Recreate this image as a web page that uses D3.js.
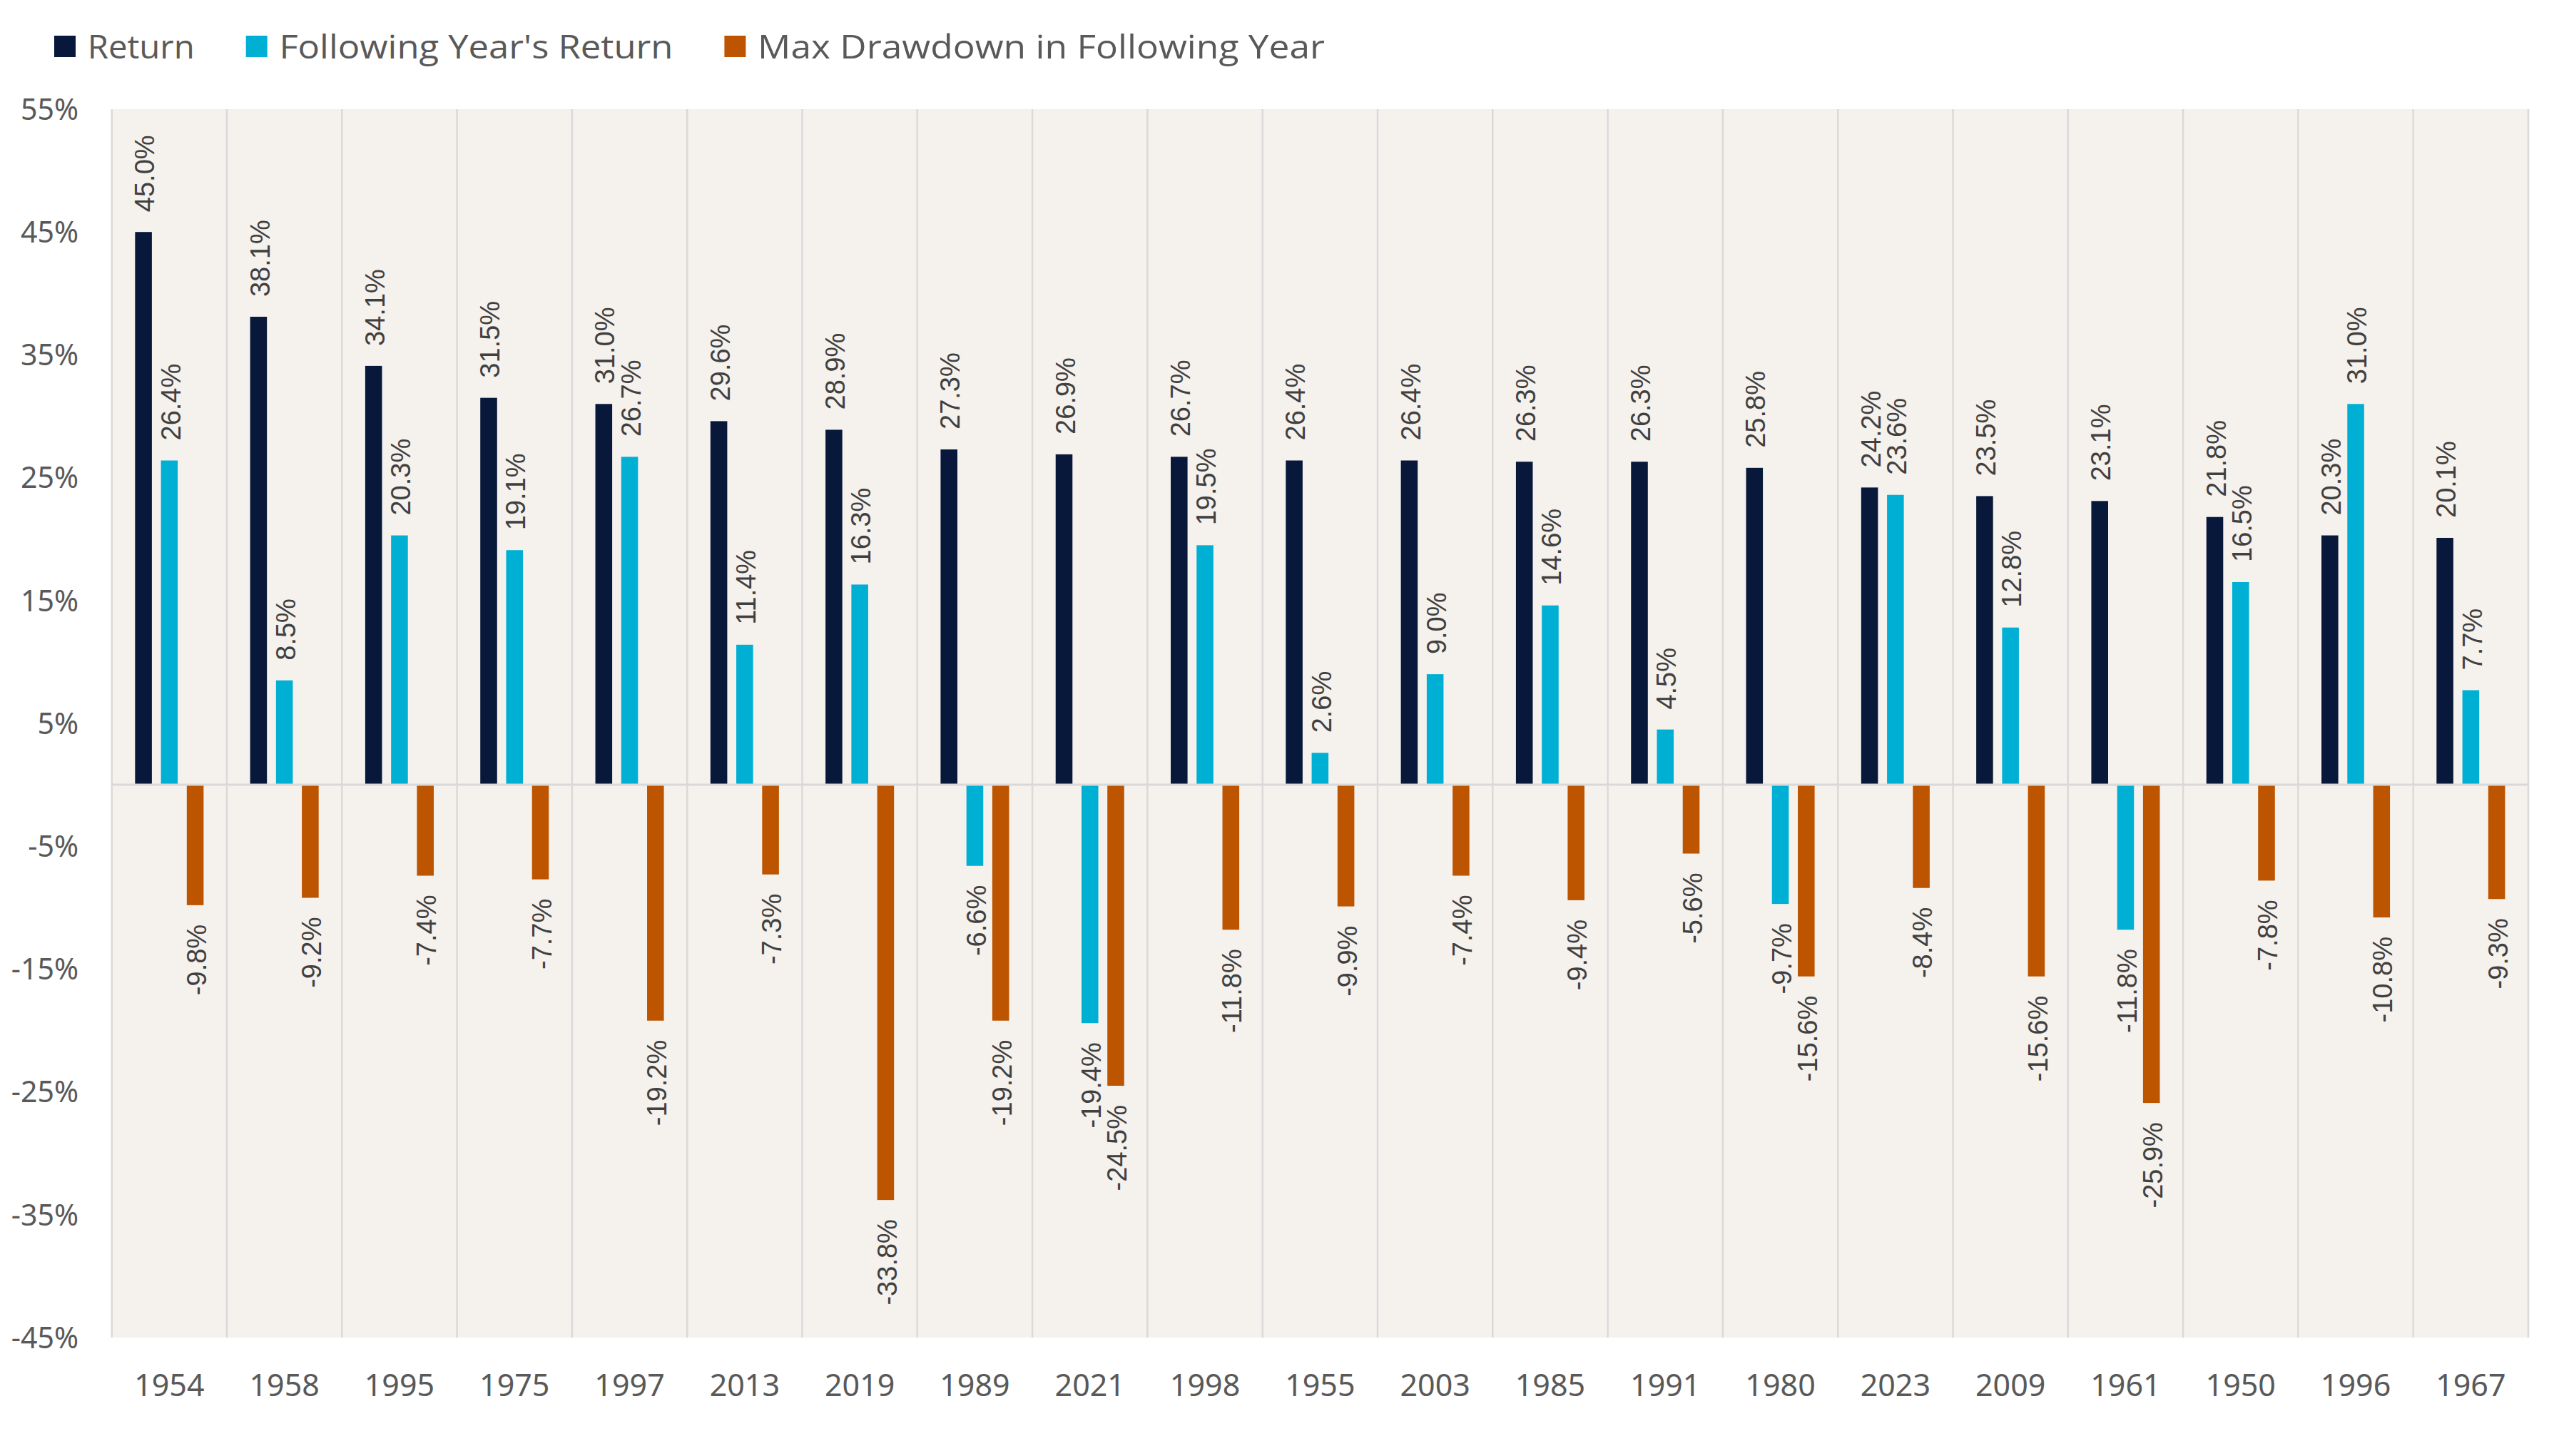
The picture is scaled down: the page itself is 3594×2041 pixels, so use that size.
<!DOCTYPE html>
<html>
<head>
<meta charset="utf-8">
<script src="https://cdn.jsdelivr.net/npm/d3@7"></script>
<style>
  html, body { margin: 0; padding: 0; background: #ffffff; }
  svg { display: block; }
</style>
</head>
<body>
<svg id="chart" width="3594" height="2041"></svg>
<script>
// ---- data ----
const categories = ["1954","1958","1995","1975","1997","2013","2019","1989","2021","1998","1955","2003","1985","1991","1980","2023","2009","1961","1950","1996","1967"];
const seriesNames = ["Return", "Following Year's Return", "Max Drawdown in Following Year"];
const returnValues    = [45.0, 38.1, 34.1, 31.5, 31.0, 29.6, 28.9, 27.3, 26.9, 26.7, 26.4, 26.4, 26.3, 26.3, 25.8, 24.2, 23.5, 23.1, 21.8, 20.3, 20.1];
const followingValues = [26.4, 8.5, 20.3, 19.1, 26.7, 11.4, 16.3, -6.6, -19.4, 19.5, 2.6, 9.0, 14.6, 4.5, -9.7, 23.6, 12.8, -11.8, 16.5, 31.0, 7.7];
const drawdownValues  = [-9.8, -9.2, -7.4, -7.7, -19.2, -7.3, -33.8, -19.2, -24.5, -11.8, -9.9, -7.4, -9.4, -5.6, -15.6, -8.4, -15.6, -25.9, -7.8, -10.8, -9.3];
const yTickValues = [55, 45, 35, 25, 15, 5, -5, -15, -25, -35, -45];
const seriesColors = ["#08183a", "#00b0d4", "#bd5500"];

// ---- layout / style ----
const W = 3594, H = 2041;
const plot = { left: 156.7, right: 3544, top: 153, bottom: 1875 };
const legendTextWidths = [150, 552, 795];   // rendered widths of the legend labels (wide geometric face)

const svg = d3.select("#chart");
svg.append("rect").attr("width", W).attr("height", H).attr("fill", "#ffffff");

const x = d3.scaleBand().domain(categories).range([plot.left, plot.right]).paddingInner(0).paddingOuter(0);
const xs = d3.scaleBand().domain(seriesNames).range([0, x.bandwidth()]).paddingInner(0.35).paddingOuter(0.9);
const y = d3.scaleLinear().domain([-45, 55]).range([plot.bottom, plot.top]);

// plot background
svg.append("rect")
  .attr("x", plot.left).attr("y", plot.top)
  .attr("width", plot.right - plot.left).attr("height", plot.bottom - plot.top)
  .attr("fill", "#f5f1ed");

// vertical category separators
const sepPositions = categories.map(c => x(c)).concat([x(categories[categories.length - 1]) + x.bandwidth()]);
svg.append("g").selectAll("line").data(sepPositions).join("line")
  .attr("x1", d => d).attr("x2", d => d)
  .attr("y1", plot.top).attr("y2", plot.bottom)
  .attr("stroke", "#dadada").attr("stroke-width", 2.5);

// data rows
const rows = categories.map((c, i) => ({
  cat: c,
  vals: [returnValues[i], followingValues[i], drawdownValues[i]]
}));

const groups = svg.append("g").selectAll("g").data(rows).join("g")
  .attr("transform", d => `translate(${x(d.cat)},0)`);

groups.selectAll("rect").data(d => d.vals.map((v, k) => ({ v, k }))).join("rect")
  .attr("x", d => xs(seriesNames[d.k]))
  .attr("width", xs.bandwidth())
  .attr("y", d => Math.min(y(d.v), y(0)))
  .attr("height", d => Math.abs(y(d.v) - y(0)))
  .attr("fill", d => seriesColors[d.k]);

// zero line
svg.append("line")
  .attr("x1", plot.left).attr("x2", plot.right)
  .attr("y1", y(0)).attr("y2", y(0))
  .attr("stroke", "#d9d9d9").attr("stroke-width", 3);

// data labels (rotated)
const fmt = v => v.toFixed(1) + "%";
groups.selectAll("text").data(d => d.vals.map((v, k) => ({ v, k }))).join("text")
  .attr("transform", d => {
    const cx = xs(seriesNames[d.k]) + xs.bandwidth() / 2 + 1.5;
    const cy = d.v >= 0 ? y(d.v) - 28 : y(d.v) + 27;
    return `translate(${cx},${cy}) rotate(-90)`;
  })
  .attr("text-anchor", d => d.v >= 0 ? "start" : "end")
  .attr("dy", "0.36em")
  .attr("font-family", "'Liberation Sans', Arial, sans-serif")
  .attr("font-size", 38)
  .attr("fill", "#404040")
  .text(d => fmt(d.v));

// y axis labels
svg.append("g").selectAll("text").data(yTickValues).join("text")
  .attr("x", 110).attr("y", d => y(d))
  .attr("dy", "0.36em")
  .attr("text-anchor", "end")
  .attr("font-family", "'Noto Sans', sans-serif")
  .attr("font-size", 41)
  .attr("fill", "#595959")
  .text(d => d + "%");

// x axis labels
svg.append("g").selectAll("text").data(categories).join("text")
  .attr("x", d => x(d) + x.bandwidth() / 2)
  .attr("y", 1957)
  .attr("text-anchor", "middle")
  .attr("font-family", "'Noto Sans', sans-serif")
  .attr("font-size", 43)
  .attr("fill", "#595959")
  .text(d => d);

// legend
const legend = svg.append("g");
let lx = 76;
seriesNames.forEach((name, k) => {
  legend.append("rect").attr("x", lx).attr("y", 50).attr("width", 30).attr("height", 30).attr("fill", seriesColors[k]);
  legend.append("text")
    .attr("x", lx + 46.7).attr("y", 81.5)
    .attr("font-family", "'Open Sans', sans-serif")
    .attr("font-size", 45)
    .attr("textLength", legendTextWidths[k])
    .attr("lengthAdjust", "spacingAndGlyphs")
    .attr("fill", "#595959")
    .text(name);
  lx = lx + 46.7 + legendTextWidths[k] + 72;
});
</script>
</body>
</html>
